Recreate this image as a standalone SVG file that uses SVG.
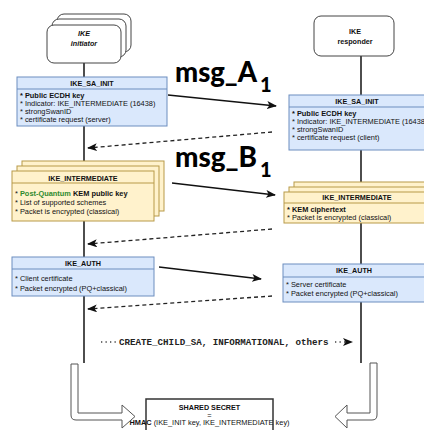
<svg xmlns="http://www.w3.org/2000/svg" width="424" height="430" viewBox="0 0 424 430">
  <defs>
    <marker id="arr" viewBox="0 0 10 8" refX="9" refY="4" markerWidth="10" markerHeight="8" markerUnits="userSpaceOnUse" orient="auto">
      <path d="M0,0 L10,4 L0,8 L2.5,4 Z" fill="#111"/>
    </marker>
  </defs>
  <style>
    .life { stroke: #3a3a3a; stroke-width: 1.8; fill: none; }
    .actor { fill: #fff; stroke: #444; stroke-width: 1; }
    .blue { fill: #dae8fc; stroke: #6c8ebf; stroke-width: 1; }
    .yellow { fill: #fff2cc; stroke: #b89a48; stroke-width: 1; }
    .sep { stroke-width: 1; }
    .hdr { font-family: "Liberation Sans", Arial, sans-serif; font-size: 7.2px; font-weight: bold; fill: #111; text-anchor: middle; }
    .body { font-family: "Liberation Sans", Arial, sans-serif; font-size: 7.4px; fill: #111; }
    .b { font-weight: bold; }
    .pq { fill: #2f8a2f; font-weight: bold; }
    .actxt { font-family: "Liberation Sans", Arial, sans-serif; font-size: 7.2px; font-weight: bold; fill: #111; text-anchor: middle; }
    .msg { stroke: #111; stroke-width: 1.3; fill: none; }
    .resp { stroke: #222; stroke-width: 1.3; fill: none; stroke-dasharray: 4 3; }
    .big { font-family: Lato, "Open Sans", sans-serif; font-weight: 900; fill: #000; }
    .hollow { fill: #fff; stroke: #555; stroke-width: 1; }
  </style>

  <!-- lifelines -->
  <g id="lifelines">
    <line class="life" x1="84" y1="62" x2="84" y2="363"/>
    <line class="life" x1="361" y1="56" x2="361" y2="363"/>
  </g>

  <!-- initiator actor (stacked) -->
  <g id="initiator">
    <rect class="actor" x="57" y="14" width="74" height="38" rx="7"/>
    <rect class="actor" x="52" y="19" width="74" height="38" rx="7"/>
    <rect class="actor" x="47" y="25" width="74" height="38" rx="7"/>
    <text class="actxt" font-style="italic" x="84" y="36">IKE</text>
    <text class="actxt" font-style="italic" x="84" y="46">initiator</text>
  </g>

  <!-- responder actor -->
  <g id="responder">
    <rect class="actor" x="314" y="16" width="80" height="40" rx="7"/>
    <text class="actxt" x="355" y="34">IKE</text>
    <text class="actxt" x="355" y="44">responder</text>
  </g>

  <!-- initiator IKE_SA_INIT -->
  <g id="init-sa-init">
    <rect class="blue" x="17" y="77" width="150" height="49"/>
    <line class="blue sep" x1="17" y1="89" x2="167" y2="89"/>
    <text class="hdr" x="92" y="86">IKE_SA_INIT</text>
    <text class="body" x="20" y="98"><tspan class="b">* Public ECDH key</tspan></text>
    <text class="body" x="20" y="106">* Indicator: IKE_INTERMEDIATE (16438)</text>
    <text class="body" x="20" y="114">* strongSwanID</text>
    <text class="body" x="20" y="122">* certificate request (server)</text>
  </g>

  <!-- responder IKE_SA_INIT -->
  <g id="resp-sa-init">
    <rect class="blue" x="289" y="95" width="138" height="55"/>
    <line class="blue sep" x1="289" y1="107" x2="427" y2="107"/>
    <text class="hdr" x="357" y="104">IKE_SA_INIT</text>
    <text class="body" x="292" y="116"><tspan class="b">* Public ECDH key</tspan></text>
    <text class="body" x="292" y="124">* Indicator: IKE_INTERMEDIATE (16438)</text>
    <text class="body" x="292" y="132">* strongSwanID</text>
    <text class="body" x="292" y="140">* certificate request (client)</text>
  </g>

  <!-- initiator IKE_INTERMEDIATE (stacked) -->
  <g id="init-intermediate">
    <rect class="yellow" x="22" y="161" width="142" height="50"/>
    <rect class="yellow" x="17" y="166" width="142" height="50"/>
    <rect class="yellow" x="12" y="171" width="142" height="50"/>
    <line class="yellow sep" x1="12" y1="183" x2="154" y2="183"/>
    <text class="hdr" x="83" y="180.5">IKE_INTERMEDIATE</text>
    <text class="body" x="15" y="196"><tspan>* </tspan><tspan class="pq">Post-Quantum</tspan><tspan class="b"> KEM public key</tspan></text>
    <text class="body" x="15" y="205">* List of supported schemes</text>
    <text class="body" x="15" y="214">* Packet is encrypted (classical)</text>
  </g>

  <!-- responder IKE_INTERMEDIATE (stacked) -->
  <g id="resp-intermediate">
    <rect class="yellow" x="294" y="182" width="146" height="31"/>
    <rect class="yellow" x="289" y="187" width="146" height="31"/>
    <rect class="yellow" x="284" y="192" width="146" height="31"/>
    <line class="yellow sep" x1="284" y1="203" x2="430" y2="203"/>
    <text class="hdr" x="357" y="200">IKE_INTERMEDIATE</text>
    <text class="body" x="287" y="212"><tspan class="b">* KEM ciphertext</tspan></text>
    <text class="body" x="287" y="220">* Packet is encrypted (classical)</text>
  </g>

  <!-- initiator IKE_AUTH -->
  <g id="init-auth">
    <rect class="blue" x="12" y="257" width="142" height="39"/>
    <line class="blue sep" x1="12" y1="269" x2="154" y2="269"/>
    <text class="hdr" x="83" y="265.5">IKE_AUTH</text>
    <text class="body" x="15" y="281">* Client certificate</text>
    <text class="body" x="15" y="291">* Packet encrypted (PQ+classical)</text>
  </g>

  <!-- responder IKE_AUTH -->
  <g id="resp-auth">
    <rect class="blue" x="283" y="264" width="143" height="38"/>
    <line class="blue sep" x1="283" y1="277" x2="426" y2="277"/>
    <text class="hdr" x="354" y="273">IKE_AUTH</text>
    <text class="body" x="286" y="287">* Server certificate</text>
    <text class="body" x="286" y="296">* Packet encrypted (PQ+classical)</text>
  </g>

  <!-- shared secret -->
  <g id="shared-secret">
    <rect x="146" y="399" width="127" height="40" fill="#fff" stroke="#333" stroke-width="1.5"/>
    <text class="hdr" x="209.5" y="410" font-size="6.9px">SHARED SECRET</text>
    <text class="body" x="209.5" y="417.5" text-anchor="middle" font-size="6px">=</text>
    <text class="body" x="209.5" y="425" text-anchor="middle" font-size="6.9px"><tspan class="b">HMAC</tspan> (IKE_INIT key, IKE_INTERMEDIATE key)</text>
  </g>

  <!-- message labels -->
  <g id="labels">
    <text class="big" x="175" y="82" font-size="29" textLength="82" lengthAdjust="spacingAndGlyphs">msg_A</text>
    <text class="big" x="260" y="92" font-size="20">1</text>
    <text class="big" x="175" y="167" font-size="29" textLength="82" lengthAdjust="spacingAndGlyphs">msg_B</text>
    <text class="big" x="260" y="177" font-size="20">1</text>
  </g>

  <!-- connectors -->
  <g id="connectors">
    <line class="msg" x1="168" y1="95" x2="276" y2="106" marker-end="url(#arr)"/>
    <line class="resp" x1="272" y1="132" x2="88" y2="148" marker-end="url(#arr)"/>
    <line class="msg" x1="172" y1="183" x2="275" y2="195" marker-end="url(#arr)"/>
    <line class="resp" x1="272" y1="229" x2="88" y2="244" marker-end="url(#arr)"/>
    <line class="msg" x1="159" y1="267" x2="261" y2="279" marker-end="url(#arr)"/>
    <line class="resp" x1="272" y1="296" x2="88" y2="309" marker-end="url(#arr)"/>
    <line x1="101" y1="342" x2="352" y2="342" stroke="#444" stroke-width="1.3" stroke-dasharray="1.3 3.2" marker-end="url(#arr)"/>
    <rect x="117" y="337" width="217" height="10" fill="#fff"/>
    <text x="119" y="345" font-family="'Liberation Mono', 'Courier New', monospace" font-size="9.2" font-weight="bold" fill="#222">CREATE_CHILD_SA, INFORMATIONAL, others</text>
    <path class="hollow" d="M71,364 H78 V413 H122 V405 L135,416.5 L122,428 V420 H76 Q71,420 71,415 Z"/>
    <path class="hollow" d="M377,363 H370 V413 H347 V405 L335,416.5 L347,428 V420 H372 Q377,420 377,415 Z"/>
  </g>
</svg>
